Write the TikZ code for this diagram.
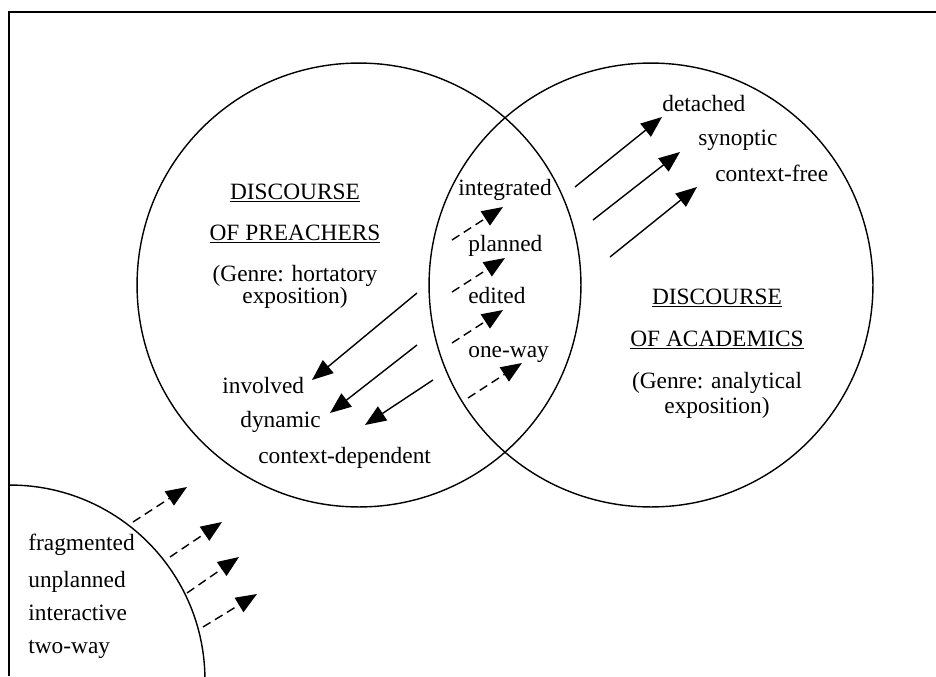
\documentclass[tikz,border=0pt]{standalone}
\usepackage{fontspec}
\setmainfont{Liberation Serif}
\usetikzlibrary{arrows.meta}
\tikzset{
  lbl/.style={inner sep=0pt, font=\fontsize{13.3}{16}\selectfont},
  ring/.style={draw, circle, line width=0.8pt, inner sep=0pt, minimum size=8.88cm},
  solidarr/.style={line width=0.8pt, -{Triangle[length=12pt,width=9.5pt]}},
  dasharr/.style={solidarr, dash pattern=on 5pt off 3pt}
}
\begin{document}
\begin{tikzpicture}[x=0.02cm,y=-0.02cm]
\useasboundingbox (0,0) rectangle (936,676);
\draw[line width=0.6pt] (9,676) -- (9,12) -- (936,12);

\node[ring] (preachers) at (359,285) {};
\node[ring] (academics) at (651,285) {};
\begin{scope}
\clip (9,12) rectangle (936,676);
\node[ring, minimum size=7.8cm] (speech) at (10,680) {};
\end{scope}

\node[lbl, anchor=base] (pdisc) at (295,199) {\underline{DISCOURSE}};
\node[lbl, anchor=base] (ppre) at (295,240) {\underline{OF PREACHERS}};
\node[lbl, anchor=base] (pgenre) at (295,281) {(Genre: hortatory};
\node[lbl, anchor=base] (pexpo) at (295,303) {exposition)};

\node[lbl, anchor=base] (adisc) at (717,304) {\underline{DISCOURSE}};
\node[lbl, anchor=base] (aacad) at (717,346) {\underline{OF ACADEMICS}};
\node[lbl, anchor=base] (agenre) at (717,388) {(Genre: analytical};
\node[lbl, anchor=base] (aexpo) at (717,413) {exposition)};

\node[lbl, anchor=base west] (integ) at (458,195) {integrated};
\node[lbl, anchor=base west] (plan) at (468,251) {planned};
\node[lbl, anchor=base west] (edit) at (468,303) {edited};
\node[lbl, anchor=base west] (oneway) at (468,357) {one-way};

\node[lbl, anchor=base west] (invol) at (222,393) {involved};
\node[lbl, anchor=base west] (dyn) at (240,427) {dynamic};
\node[lbl, anchor=base west] (ctxdep) at (258,463) {context-dependent};

\node[lbl, anchor=base west] (detach) at (662,111) {detached};
\node[lbl, anchor=base west] (synop) at (698,145) {synoptic};
\node[lbl, anchor=base west] (ctxfree) at (715,181) {context-free};

\node[lbl, anchor=base west] (frag) at (28,550) {fragmented};
\node[lbl, anchor=base west] (unplan) at (28,587) {unplanned};
\node[lbl, anchor=base west] (inter) at (28,620) {interactive};
\node[lbl, anchor=base west] (twoway) at (28,653) {two-way};

\coordinate (l1a) at (452,240); \coordinate (l1b) at (503,207);
\coordinate (l2a) at (452,292); \coordinate (l2b) at (505,258);
\coordinate (l3a) at (452,343); \coordinate (l3b) at (503,310);
\coordinate (l4a) at (468,398); \coordinate (l4b) at (522,363);
\draw[dasharr] (l1a) -- (l1b);
\draw[dasharr] (l2a) -- (l2b);
\draw[dasharr] (l3a) -- (l3b);
\draw[dasharr] (l4a) -- (l4b);

\coordinate (p1a) at (417,293); \coordinate (p1b) at (312,380);
\coordinate (p2a) at (417,345); \coordinate (p2b) at (330,413);
\coordinate (p3a) at (433,380); \coordinate (p3b) at (365,425);
\draw[solidarr] (p1a) -- (p1b);
\draw[solidarr] (p2a) -- (p2b);
\draw[solidarr] (p3a) -- (p3b);

\coordinate (a1a) at (575,187); \coordinate (a1b) at (662,117);
\coordinate (a2a) at (593,220); \coordinate (a2b) at (680,152);
\coordinate (a3a) at (610,257); \coordinate (a3b) at (697,187);
\draw[solidarr] (a1a) -- (a1b);
\draw[solidarr] (a2a) -- (a2b);
\draw[solidarr] (a3a) -- (a3b);

\coordinate (s1a) at (133,522); \coordinate (s1b) at (187,487);
\coordinate (s2a) at (170,557); \coordinate (s2b) at (222,522);
\coordinate (s3a) at (187,593); \coordinate (s3b) at (239,557);
\coordinate (s4a) at (203,627); \coordinate (s4b) at (257,594);
\draw[dasharr] (s1a) -- (s1b);
\draw[dasharr] (s2a) -- (s2b);
\draw[dasharr] (s3a) -- (s3b);
\draw[dasharr] (s4a) -- (s4b);
\end{tikzpicture}
\end{document}
